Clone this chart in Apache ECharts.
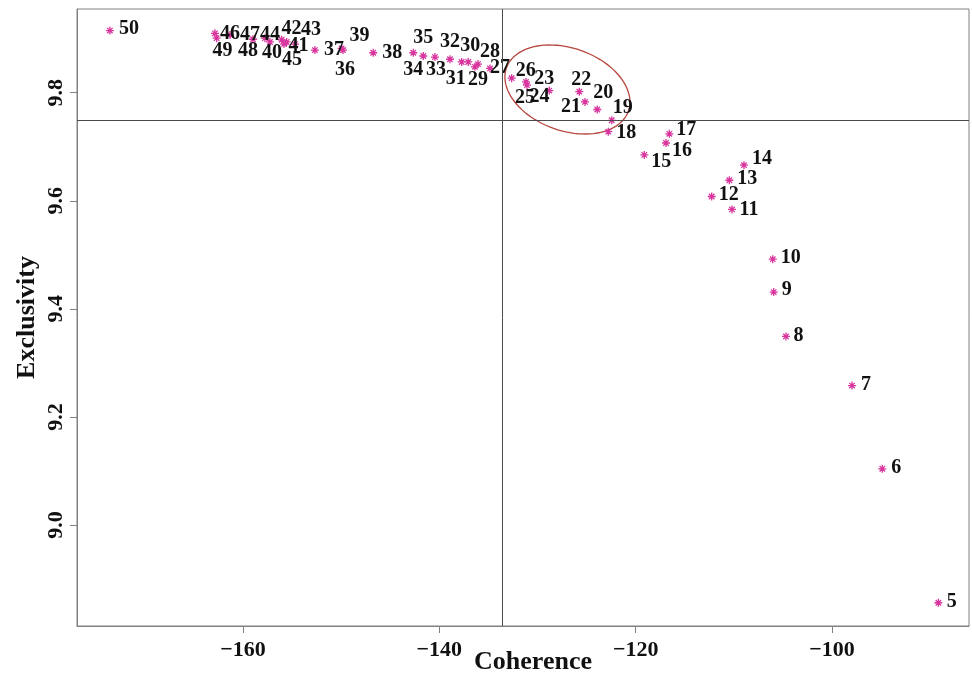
<!DOCTYPE html>
<html><head><meta charset="utf-8">
<script src="https://cdn.jsdelivr.net/npm/echarts@6/dist/echarts.min.js"></script>
<style>html,body{margin:0;padding:0;background:#fff}#c{width:972px;height:686px}</style>
</head><body><div id="c"></div>
<script>
// ---- data ----
const topics = [5,6,7,8,9,10,11,12,13,14,15,16,17,18,19,20,21,22,23,24,25,26,27,28,29,30,31,32,33,34,35,36,37,38,39,40,41,42,43,44,45,46,47,48,49,50];
const coherence = [-89.17,-94.88,-97.96,-104.69,-105.94,-106.04,-110.19,-112.26,-110.46,-108.97,-119.12,-116.91,-116.57,-122.79,-122.44,-123.91,-125.16,-125.74,-128.80,-131.07,-131.17,-132.63,-134.84,-136.06,-136.37,-137.05,-137.72,-138.91,-140.44,-142.65,-141.63,-149.81,-152.67,-146.73,-149.95,-157.25,-155.55,-156.06,-154.70,-157.76,-155.82,-162.85,-161.32,-158.98,-162.68,-173.55];
const exclusivity = [8.856,9.104,9.258,9.349,9.431,9.492,9.584,9.608,9.638,9.666,9.685,9.707,9.724,9.728,9.749,9.769,9.783,9.802,9.804,9.814,9.820,9.827,9.845,9.853,9.848,9.857,9.857,9.862,9.866,9.874,9.868,9.879,9.879,9.874,9.882,9.894,9.894,9.898,9.890,9.901,9.890,9.910,9.907,9.899,9.901,9.915];
const xTicks = [-160,-140,-120,-100];
const yTicks = [9.0,9.2,9.4,9.6,9.8];
const refCoherence = -133.6;
const refExclusivity = 9.746;
const ellipseCenter = [-126.95, 9.806];

// ---- label placement (style only) ----
const labelOffsets = {5:[13.5,-1],6:[14,-1],7:[14,-1],8:[12.5,-1],9:[13,-2],10:[18,-1.5],11:[17,0],12:[17,-2],13:[18,-1.5],14:[18,-6],15:[17,6.5],16:[16,8],17:[17,-3.5],18:[18,1],19:[11,-12],20:[6,-17],21:[-14,5],22:[2,-12],23:[-5,-12],24:[12.5,11.5],25:[-1,16],26:[14,-7],27:[10,-1],28:[12,-12],29:[3,13],30:[2,-16],31:[-6,17],32:[0,-17],33:[1,13],34:[0,17],35:[0,-18],36:[2,20],37:[19,0],38:[19,0],39:[18,-13],40:[2,11],41:[12,4],42:[10,-11],43:[16,-14],44:[5,-3],45:[8,16],46:[15,1],47:[20,0],48:[-5,12],49:[6,13],50:[19,-2]};

const FONT = 'Liberation Serif';
const starPath = 'path://M5 0L5 10M0 5L10 5M1.6 1.6L8.4 8.4M8.4 1.6L1.6 8.4';

const points = topics.map((t, i) => ({
  value: [coherence[i], exclusivity[i], t],
  label: { offset: labelOffsets[t] || [16, 0] }
}));

const chart = echarts.init(document.getElementById('c'), null, {renderer: 'canvas'});
chart.setOption({
  animation: false,
  backgroundColor: '#fff',
  grid: { left: 77, right: 3, top: 9, bottom: 60, show: true, borderColor: '#808080', borderWidth: 1,
    outerBoundsMode: 'none', containLabel: false },
  xAxis: {
    type: 'value', min: -176.9, max: -86.05,
    name: 'Coherence', nameLocation: 'middle', nameGap: 23, nameMoveOverlap: false,
    nameTextStyle: { fontFamily: FONT, fontWeight: 'bold', fontSize: 26, color: '#111', padding: [0, 0, 0, 20] },
    axisLine: { show: true, onZero: false, lineStyle: { color: '#808080', width: 1 } },
    axisTick: { show: true, length: 7, customValues: xTicks, lineStyle: { color: '#808080' } },
    axisLabel: { customValues: xTicks, margin: 13, fontFamily: FONT, fontWeight: 'bold', fontSize: 22, color: '#111',
      formatter: v => (v < 0 ? '\u2212' + Math.abs(v) : '' + v) },
    splitLine: { show: false }
  },
  yAxis: {
    type: 'value', min: 8.813, max: 9.955,
    name: 'Exclusivity', nameLocation: 'middle', nameGap: 37, nameRotate: 90, nameMoveOverlap: false,
    nameTextStyle: { fontFamily: FONT, fontWeight: 'bold', fontSize: 26, color: '#111' },
    axisLine: { show: true, onZero: false, lineStyle: { color: '#808080', width: 1 } },
    axisTick: { show: true, length: 7, customValues: yTicks, lineStyle: { color: '#808080' } },
    axisLabel: { customValues: yTicks, rotate: 90, margin: 10, fontFamily: FONT, fontWeight: 'bold', fontSize: 22, color: '#111',
      formatter: v => v.toFixed(1) },
    splitLine: { show: false }
  },
  series: [
    {
      type: 'scatter',
      data: points,
      symbol: starPath,
      symbolSize: 8,
      itemStyle: { color: 'rgba(0,0,0,0)', borderColor: '#d8369e', borderWidth: 1.3, opacity: 1 },
      label: {
        show: true, position: 'inside', align: 'center', verticalAlign: 'middle',
        formatter: p => String(p.value[2]),
        fontFamily: FONT, fontWeight: 'bold', fontSize: 20, color: '#111'
      },
      emphasis: { disabled: true },
      markLine: {
        silent: true, symbol: 'none', label: { show: false },
        lineStyle: { color: '#4a4a4a', type: 'solid', width: 1 },
        data: [{ xAxis: refCoherence }, { yAxis: refExclusivity }]
      },
      z: 3
    },
    {
      type: 'custom',
      data: [ellipseCenter],
      silent: true,
      renderItem: (params, api) => {
        const c = api.coord([api.value(0), api.value(1)]);
        const a = 64.7, b = 41.3, th = 19.5 * Math.PI / 180;
        const pts = [];
        for (let i = 0; i <= 96; i++) {
          const t = i / 96 * 2 * Math.PI;
          const ex = a * Math.cos(t), ey = b * Math.sin(t);
          pts.push([c[0] + ex * Math.cos(th) - ey * Math.sin(th), c[1] + ex * Math.sin(th) + ey * Math.cos(th)]);
        }
        return { type: 'polygon', shape: { points: pts }, style: { fill: 'none', stroke: '#b5473f', lineWidth: 1.3 } };
      },
      z: 2
    }
  ]
});
</script>
</body></html>
